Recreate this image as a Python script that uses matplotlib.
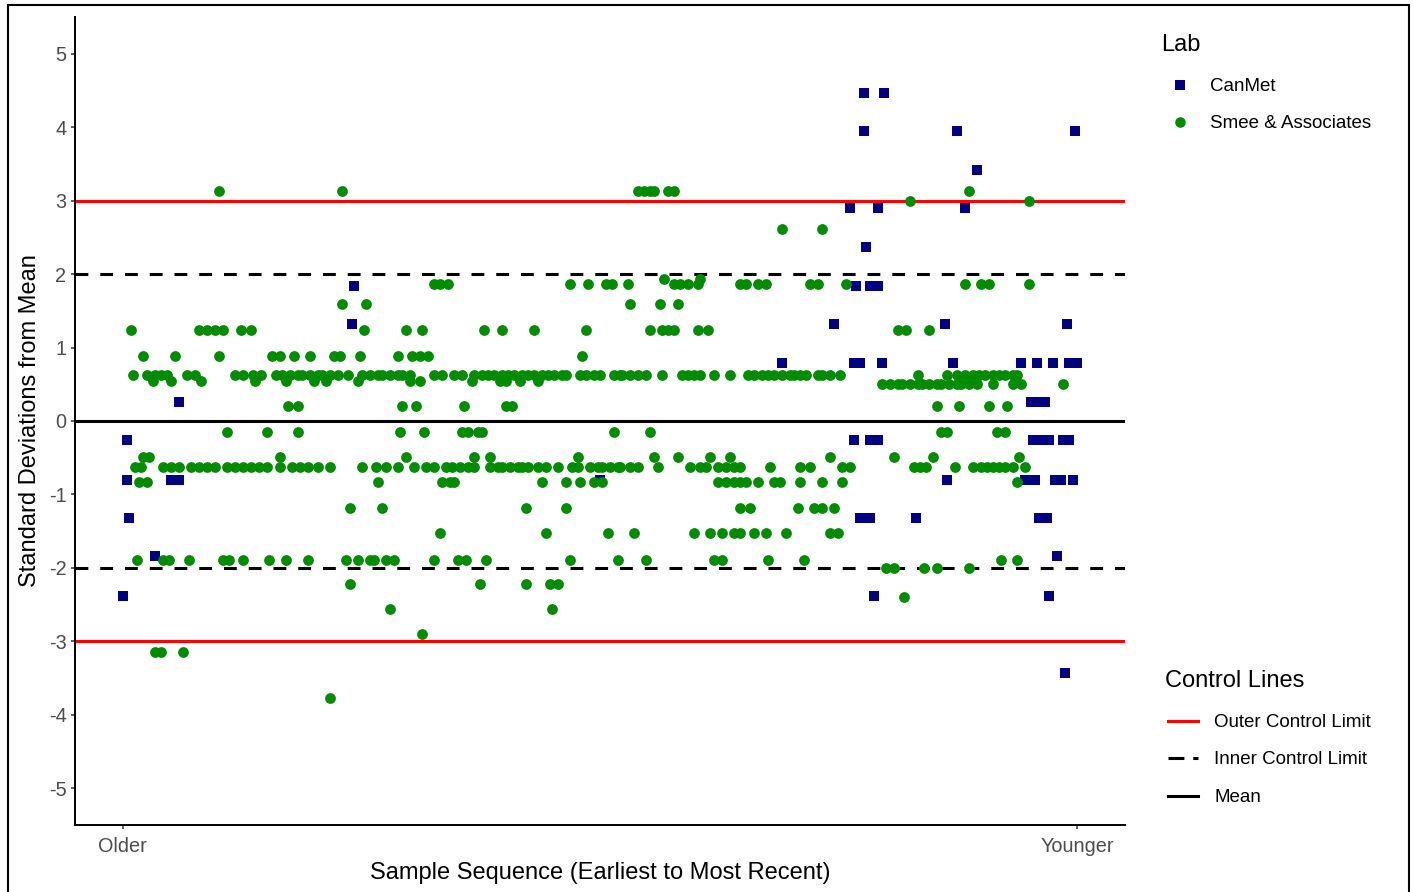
import matplotlib
matplotlib.use("Agg")
import matplotlib.pyplot as plt
from matplotlib.lines import Line2D
from matplotlib.patches import Rectangle
import numpy as np

plt.rcParams['font.family'] = ['Liberation Sans', 'DejaVu Sans']
plt.rcParams['axes.unicode_minus'] = False

# ---------------- data (sample sequence index, SD from mean) ----------------
first_sample, last_sample = 0, 478
x_tick_labels = ["Older", "Younger"]
y_ticks = [-5, -4, -3, -2, -1, 0, 1, 2, 3, 4, 5]

outer_limits = [-3, 3]
inner_limits = [-2, 2]
mean_level = 0

# Smee & Associates: one list of sample positions per observed SD level
smee_levels = [3.13, 3.0, 2.62, 1.93, 1.87, 1.59, 1.24, 0.89, 0.62, 0.54, 0.50,
               0.21, -0.15, -0.49, -0.63, -0.83, -1.18, -1.53, -1.89, -2.0,
               -2.22, -2.39, -2.56, -2.9, -3.14, -3.77]
s_3_13 = [48, 110, 258, 261, 264, 266, 273, 276, 424]
s_3_00 = [394, 454]
s_2_62 = [330, 350]
s_1_93 = [271, 289]
s_1_87 = [156, 159, 163, 224, 233, 242, 245, 253, 276, 279, 283, 288, 309, 312,
          318, 322, 344, 348, 362, 422, 430, 434, 454]
s_1_59 = [110, 122, 254, 269, 278]
s_1_24 = [4, 38, 42, 46, 50, 59, 64, 121, 142, 150, 181, 190, 206, 232, 264, 270,
          273, 276, 288, 293, 388, 392, 404]
s_0_89 = [10, 26, 48, 75, 79, 86, 94, 106, 109, 119, 138, 145, 149, 153, 230]
s_0_62 = [5, 12, 16, 19, 22, 32, 36, 56, 60, 65, 69, 77, 80, 84, 88, 90, 94, 98,
          100, 104, 108, 113, 120, 124, 128, 130, 134, 138, 140, 144, 156, 160,
          166, 170, 176, 180, 183, 186, 190, 193, 196, 200, 203, 206, 210, 213,
          216, 220, 222, 229, 232, 236, 239, 246, 249, 250, 254, 258, 262, 270,
          280, 283, 286, 289, 296, 304, 313, 316, 320, 323, 326, 330, 334, 336,
          339, 342, 348, 350, 354, 359, 398, 413, 418, 422, 426, 429, 432, 436,
          439, 442, 446, 448]
s_0_54 = [15, 24, 39, 66, 82, 96, 102, 118, 144, 149, 175, 189, 192, 199, 208]
s_0_50 = [380, 384, 388, 390, 394, 398, 400, 404, 408, 410, 414, 418, 420, 424,
          428, 436, 446, 450, 471]
s_0_21 = [83, 88, 140, 147, 171, 192, 195, 408, 419, 434, 443]
s_m0_15 = [52, 72, 88, 139, 151, 170, 173, 178, 180, 246, 264, 410, 413, 438, 442]
s_m0_49 = [10, 13, 79, 142, 176, 184, 228, 266, 278, 294, 304, 354, 386, 406, 449]
s_m0_63 = [6, 9, 20, 24, 28, 34, 38, 42, 46, 52, 56, 60, 64, 68, 72, 79, 85, 89,
           93, 98, 104, 120, 127, 132, 138, 146, 152, 156, 162, 165, 169, 173,
           176, 184, 188, 190, 194, 198, 200, 203, 208, 212, 218, 225, 228, 234,
           238, 240, 244, 248, 249, 254, 258, 268, 284, 289, 292, 298, 302, 306,
           309, 324, 339, 344, 360, 364, 396, 399, 402, 417, 426, 430, 433, 436,
           439, 442, 446, 452]
s_m0_83 = [8, 12, 128, 160, 164, 166, 210, 222, 229, 236, 240, 298, 302, 306, 309,
           312, 318, 326, 329, 339, 350, 360, 448]
s_m1_18 = [114, 130, 202, 222, 309, 314, 338, 346, 350, 356]
s_m1_53 = [159, 212, 243, 256, 286, 294, 300, 306, 309, 316, 322, 332, 354, 358]
s_m1_89 = [7, 20, 23, 33, 50, 53, 60, 73, 82, 93, 112, 118, 124, 126, 132, 136,
           156, 168, 172, 182, 224, 248, 262, 296, 300, 323, 341, 440, 448]
s_m2_00 = [382, 386, 401, 408, 424]
s_m2_22 = [114, 179, 202, 214, 218]
s_m2_39 = [391]
s_m2_56 = [134, 215]
s_m2_90 = [150]
s_m3_14 = [16, 19, 30]
s_m3_77 = [104]
smee_positions = [s_3_13, s_3_00, s_2_62, s_1_93, s_1_87, s_1_59, s_1_24, s_0_89,
                  s_0_62, s_0_54, s_0_50, s_0_21, s_m0_15, s_m0_49, s_m0_63,
                  s_m0_83, s_m1_18, s_m1_53, s_m1_89, s_m2_00, s_m2_22, s_m2_39,
                  s_m2_56, s_m2_90, s_m3_14, s_m3_77]

# CanMet
canmet_levels = [4.47, 3.95, 3.42, 2.90, 2.37, 1.84, 1.32, 0.79, 0.26, -0.26,
                 -0.80, -1.32, -1.84, -2.38, -3.43]
c_4_47 = [371, 381]
c_3_95 = [371, 418, 477]
c_3_42 = [428]
c_2_90 = [364, 378, 422]
c_2_37 = [372]
c_1_84 = [116, 367, 374, 378]
c_1_32 = [115, 356, 412, 473]
c_0_79 = [330, 366, 369, 380, 416, 450, 458, 466, 474, 478]
c_0_26 = [28, 455, 459, 462]
c_m0_26 = [2, 366, 374, 378, 456, 460, 464, 471, 474]
c_m0_80 = [2, 24, 28, 239, 413, 452, 457, 467, 470, 476]
c_m1_32 = [3, 369, 374, 397, 459, 463]
c_m1_84 = [16, 468]
c_m2_38 = [0, 376, 464]
c_m3_43 = [472]
canmet_positions = [c_4_47, c_3_95, c_3_42, c_2_90, c_2_37, c_1_84, c_1_32, c_0_79,
                    c_0_26, c_m0_26, c_m0_80, c_m1_32, c_m1_84, c_m2_38, c_m3_43]

def flatten(levels, positions):
    xs, ys = [], []
    for lv, pos in zip(levels, positions):
        xs.extend(pos)
        ys.extend([lv] * len(pos))
    return np.array(xs), np.array(ys)

smee_x, smee_y = flatten(smee_levels, smee_positions)
can_x, can_y = flatten(canmet_levels, canmet_positions)

# ---------------- figure ----------------
W, H = 1413, 892
fig = plt.figure(figsize=(W / 100, H / 100), dpi=100)

def fx(px):
    return px / W

def fy(py):
    return 1 - py / H

ax = fig.add_axes([fx(75), fy(825), fx(1125) - fx(75), fy(17) - fy(825)])

RED = '#FF0000'
GREEN = '#008B00'
LW = 2.2
DASH = (4.2, 3.9)

for v in outer_limits:
    ax.axhline(v, color=RED, lw=LW, zorder=1)
for v in inner_limits:
    ax.axhline(v, color='black', lw=LW, dashes=DASH, zorder=1)
ax.axhline(mean_level, color='black', lw=LW, zorder=1)

ax.scatter(can_x, can_y, marker='s', s=56, color='#000080', linewidths=0, zorder=3)
ax.scatter(smee_x, smee_y, marker='o', s=60, color=GREEN, linewidths=0, zorder=4)

span = last_sample - first_sample
ax.set_xlim(first_sample - 0.05 * span, last_sample + 0.05 * span)
ax.set_ylim(-5.5, 5.5)
ax.set_xticks([first_sample, last_sample])
ax.set_xticklabels(x_tick_labels)
ax.set_yticks(y_ticks)
ax.set_yticklabels([str(t) for t in y_ticks])

for side in ['top', 'right']:
    ax.spines[side].set_visible(False)
for side in ['left', 'bottom']:
    ax.spines[side].set_linewidth(1.4)
    ax.spines[side].set_color('black')
ax.tick_params(axis='both', length=3.2, width=1.1, color='#333333',
               labelcolor='#4D4D4D', labelsize=14.3)
ax.tick_params(axis='x', pad=5.5)
ax.tick_params(axis='y', pad=3)

ax.set_xlabel("Sample Sequence (Earliest to Most Recent)", fontsize=17, color='black')
ax.xaxis.set_label_coords(0.5, (825 - 873) / (825 - 17))
ax.xaxis.label.set_va('center')
ax.set_ylabel("Standard Deviations from Mean", fontsize=17, color='black')
ax.yaxis.set_label_coords((30 - 75) / 1050, 0.5)
ax.yaxis.label.set_va('center')

# ---------------- legends (drawn manually) ----------------
fig.text(fx(1161), fy(45), "Lab", fontsize=17, ha='left', va='center')
fig.add_artist(Line2D([fx(1180)], [fy(85)], marker='s', markersize=7.4,
                      color='#000080', markeredgewidth=0, linestyle='none'))
fig.text(fx(1210), fy(86.5), "CanMet", fontsize=13.5, ha='left', va='center')
fig.add_artist(Line2D([fx(1180)], [fy(122)], marker='o', markersize=7.6,
                      color=GREEN, markeredgewidth=0, linestyle='none'))
fig.text(fx(1210), fy(123.5), "Smee & Associates", fontsize=13.5, ha='left', va='center')

fig.text(fx(1165), fy(681), "Control Lines", fontsize=17, ha='left', va='center')
fig.add_artist(Line2D([fx(1168), fx(1198)], [fy(721), fy(721)], color=RED, lw=LW))
fig.text(fx(1214), fy(722.5), "Outer Control Limit", fontsize=13.5, ha='left', va='center')
fig.add_artist(Line2D([fx(1168), fx(1198)], [fy(758), fy(758)], color='black', lw=LW,
                      dashes=(5.2, 2.9)))
fig.text(fx(1214), fy(759.5), "Inner Control Limit", fontsize=13.5, ha='left', va='center')
fig.add_artist(Line2D([fx(1168), fx(1198)], [fy(796), fy(796)], color='black', lw=LW))
fig.text(fx(1214), fy(797.5), "Mean", fontsize=13.5, ha='left', va='center')

# outer frame
fig.add_artist(Rectangle((fx(8), -0.05), fx(1409) - fx(8), fy(5) + 0.05,
                         fill=False, lw=1.5, edgecolor='black',
                         transform=fig.transFigure))

fig.savefig("out.png", dpi=100)
